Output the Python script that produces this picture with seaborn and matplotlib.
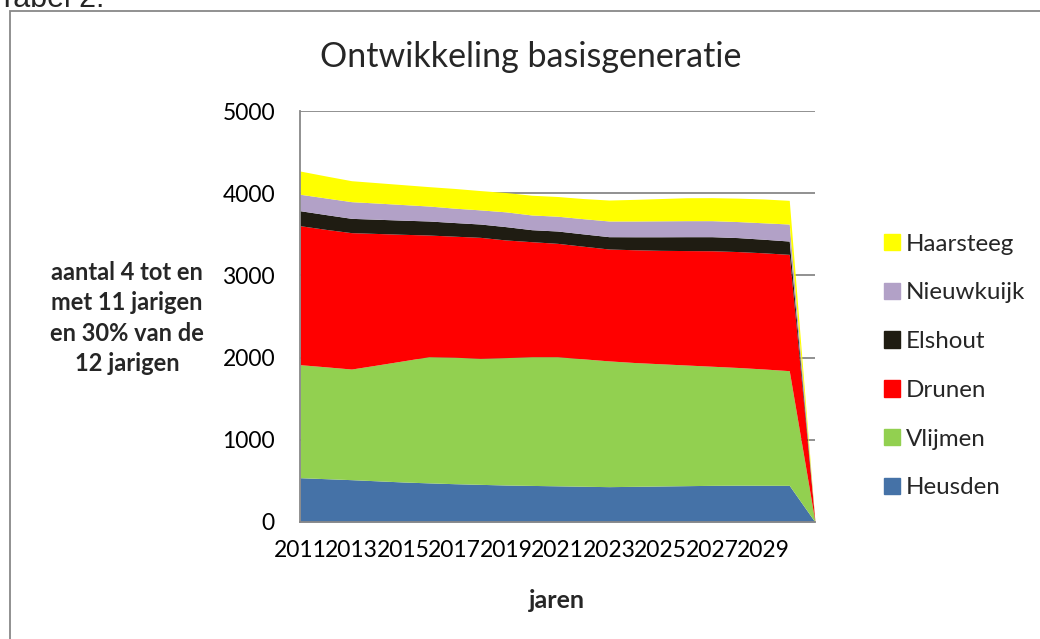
import matplotlib.pyplot as plt
import pandas as pd
import seaborn as sns
from matplotlib.patches import Patch, Rectangle

# data (2031 is an empty year, drawn as zero)
years = list(range(2011, 2032))
heusden = [539, 527, 515, 501, 487, 476, 466, 458, 450, 445, 440, 435, 430, 434, 438, 442, 446, 448, 447, 446, 0]
vlijmen = [1375, 1361, 1346, 1409, 1473, 1535, 1539, 1533, 1550, 1566, 1571, 1550, 1530, 1506, 1487, 1468, 1449, 1432, 1415, 1395, 0]
drunen = [1691, 1672, 1659, 1600, 1540, 1480, 1472, 1472, 1431, 1399, 1379, 1370, 1361, 1372, 1380, 1392, 1405, 1410, 1413, 1415, 0]
elshout = [182, 180, 174, 173, 172, 171, 166, 162, 162, 146, 150, 150, 150, 158, 165, 169, 171, 170, 165, 162, 0]
nieuwkuijk = [200, 202, 203, 197, 190, 182, 175, 172, 180, 179, 180, 185, 191, 192, 194, 195, 195, 195, 200, 207, 0]
haarsteeg = [283, 268, 255, 248, 242, 236, 240, 235, 235, 240, 240, 245, 255, 263, 271, 279, 280, 285, 290, 288, 0]

names = ['Heusden', 'Vlijmen', 'Drunen', 'Elshout', 'Nieuwkuijk', 'Haarsteeg']
colors = ['#4572A7', '#92D050', '#FF0000', '#1F1C12', '#B2A1C7', '#FFFF00']
tick_years = list(range(2011, 2030, 2))

df = pd.DataFrame({'Heusden': heusden, 'Vlijmen': vlijmen, 'Drunen': drunen,
                   'Elshout': elshout, 'Nieuwkuijk': nieuwkuijk, 'Haarsteeg': haarsteeg},
                  index=years)

sns.set_theme(style='white')
plt.rcParams['font.family'] = ['Lato', 'DejaVu Sans']

fig = plt.figure(figsize=(10.4, 6.39), dpi=100)
ax = fig.add_axes([300/1040, 1-522/639, 515/1040, 411/639])

ax.stackplot(df.index, [df[n] for n in names], colors=colors, labels=names, lw=0, zorder=2)

ax.set_xlim(2011, 2031)
ax.set_ylim(0, 5000)
ax.set_yticks(range(0, 5001, 1000))
ax.set_xticks(tick_years)
ax.set_xticklabels([str(y) for y in tick_years])
ax.tick_params(axis='both', length=0, labelsize=16.5, colors='black')
ax.tick_params(axis='y', pad=18)
ax.tick_params(axis='x', pad=13)
ax.yaxis.grid(True, color='#888888', lw=1.3, zorder=0)
ax.set_axisbelow(True)
for s in ['top', 'right']:
    ax.spines[s].set_visible(False)
for s in ['left', 'bottom']:
    ax.spines[s].set_color('#888888')
    ax.spines[s].set_linewidth(1.3)

fig.text(531/1040, 1-57/639, 'Ontwikkeling basisgeneratie', fontsize=24.5, ha='center', va='center')
fig.text(127/1040, 1-318/639, 'aantal 4 tot en\nmet 11 jarigen\nen 30% van de\n12 jarigen',
         fontsize=17, fontweight='bold', ha='center', va='center', linespacing=1.4)
fig.text(557/1040, 1-600/639, 'jaren', fontsize=18, fontweight='bold', ha='center', va='center')
fig.text(-2/1040, 1-7/639, 'Tabel 2.', fontsize=22, family=['Liberation Sans'], ha='left', va='baseline')

# chart border
fig.patches.append(Rectangle((10/1040, -0.05), 1.1, 1-11/639+0.05, transform=fig.transFigure,
                             fill=False, edgecolor='#888888', lw=1.3))

handles = [Patch(color=c, label=n) for n, c in zip(names, colors)][::-1]
fig.legend(handles=handles, loc='center left', bbox_to_anchor=(884/1040, 1-366/639),
           frameon=False, fontsize=17.4, handlelength=0.66, handleheight=0.66,
           handletextpad=0.25, labelspacing=1.15, borderpad=0, borderaxespad=0)

fig.savefig('out.png', dpi=100)
